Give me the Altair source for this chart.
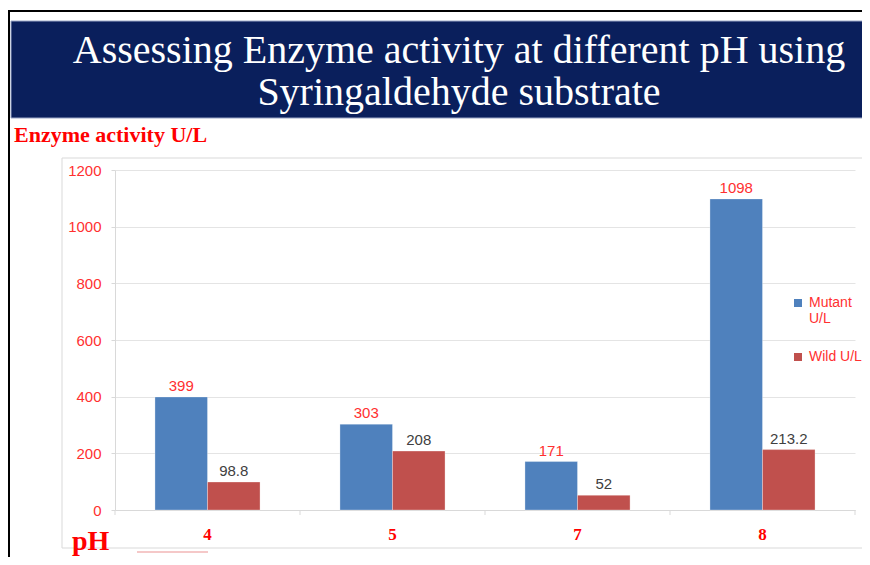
import altair as alt
import pandas as pd

ph_levels = ["4", "5", "7", "8"]
series = ["Mutant U/L", "Wild U/L"]
mutant_values = [399, 303, 171, 1098]
wild_values = [98.8, 208, 52, 213.2]
mutant_labels = ["399", "303", "171", "1098"]
wild_labels = ["98.8", "208", "52", "213.2"]
y_ticks = [0, 200, 400, 600, 800, 1000, 1200]
category_boundaries = [0, 1, 2, 3, 4]
title_lines = ["Assessing Enzyme activity at different pH using", "Syringaldehyde substrate"]
y_title = "Enzyme activity U/L"
x_title = "pH"

rows = []
for i, p in enumerate(ph_levels):
    rows.append({"pH": p, "series": series[0], "value": mutant_values[i], "label": mutant_labels[i]})
    rows.append({"pH": p, "series": series[1], "value": wild_values[i], "label": wild_labels[i]})
df = pd.DataFrame(rows)
one = pd.DataFrame({"k": [0]})

W, H = 740, 340

x_enc = alt.X("pH:N", sort=ph_levels, title=None,
              scale=alt.Scale(paddingInner=0.432, paddingOuter=0.216),
              axis=alt.Axis(labelFont="Liberation Serif", labelFontWeight="bold",
                            labelFontSize=17, labelColor="#ff0000", labelAngle=0,
                            domainColor="#d9d9d9", ticks=False, tickSize=0,
                            labelPadding=16, grid=False))
xoff = alt.XOffset("series:N", sort=series)
y_enc = alt.Y("value:Q", title=None, scale=alt.Scale(domain=[0, 1200], nice=False),
              axis=alt.Axis(values=y_ticks, format="d", labelFont="Liberation Sans", labelFontSize=15,
                            labelColor="#ff3030", domainColor="#d9d9d9", tickColor="#d9d9d9",
                            tickSize=4, labelPadding=10, gridColor="#e4e4e4"))

frame = alt.Chart(one).mark_rect(fill=None, stroke="black", strokeWidth=2).encode(
    x=alt.value(-106), x2=alt.value(800), y=alt.value(-159), y2=alt.value(450))
banner = alt.Chart(one).mark_rect(fill="#0a1f5c", stroke="#9aa6c6", strokeWidth=1).encode(
    x=alt.value(-104), x2=alt.value(800), y=alt.value(-149), y2=alt.value(-52))
t1 = alt.Chart(pd.DataFrame({"t": [title_lines[0]]})).mark_text(
    font="Liberation Serif", fontSize=40, color="white", align="center", baseline="alphabetic").encode(
    x=alt.value(344), y=alt.value(-107), text="t:N")
t2 = alt.Chart(pd.DataFrame({"t": [title_lines[1]]})).mark_text(
    font="Liberation Serif", fontSize=40, color="white", align="center", baseline="alphabetic").encode(
    x=alt.value(344), y=alt.value(-65), text="t:N")
ytitle = alt.Chart(pd.DataFrame({"t": [y_title]})).mark_text(
    font="Liberation Serif", fontSize=22, fontWeight="bold", color="#ff0000", align="left",
    baseline="alphabetic").encode(x=alt.value(-101), y=alt.value(-28), text="t:N")
box = alt.Chart(one).mark_rect(fill=None, stroke="#d9d9d9", strokeWidth=1).encode(
    x=alt.value(-53), x2=alt.value(800), y=alt.value(-12), y2=alt.value(378))
xtitle = alt.Chart(pd.DataFrame({"t": [x_title]})).mark_text(
    font="Liberation Serif", fontSize=28, fontWeight="bold", color="#ff0000", align="left",
    baseline="alphabetic").encode(x=alt.value(-43), y=alt.value(380), text="t:N")
pink = alt.Chart(one).mark_rule(color="#f2b6b6", strokeWidth=1.5).encode(
    x=alt.value(22), x2=alt.value(93), y=alt.value(382))

xticks = alt.Chart(pd.DataFrame({"b": category_boundaries})).mark_rule(color="#d9d9d9").encode(
    x=alt.X("b:Q", scale=alt.Scale(domain=[0, 4], nice=False, zero=False), axis=None),
    y=alt.value(H), y2=alt.value(H + 5))

bars = alt.Chart(df).mark_bar(stroke="white", strokeWidth=0.5, strokeOpacity=0.6).encode(
    x=x_enc, xOffset=xoff, y=y_enc,
    color=alt.Color("series:N", sort=series,
                    scale=alt.Scale(domain=series, range=["#4f81bd", "#c0504d"]),
                    legend=alt.Legend(title=None, orient="none", legendX=676, legendY=126,
                                      symbolType="square", symbolSize=64, symbolStrokeWidth=0,
                                      labelFont="Liberation Sans", labelFontSize=14,
                                      labelColor="#ff3030", rowPadding=24, labelLimit=200,
                                      labelExpr="datum.label == 'Mutant U/L' ? ['Mutant', 'U/L'] : datum.label")))
labels = alt.Chart(df).mark_text(font="Liberation Sans", fontSize=15, baseline="alphabetic", dy=-6).encode(
    x=x_enc, xOffset=xoff, y=y_enc, text="label:N",
    color=alt.condition("datum.series == 'Mutant U/L'", alt.value("#ff3030"), alt.value("#404040")))

main = alt.layer(frame, banner, t1, t2, ytitle, box, xtitle, pink, bars, labels)

chart = alt.layer(main, xticks).resolve_scale(x="independent").properties(
    width=W, height=H,
    autosize=alt.AutoSizeParams(type="none"),
    padding={"left": 107, "top": 162, "right": 7, "bottom": 47},
    background="white",
).configure_view(stroke=None)

chart.save("out.html", embed_options={"renderer": "svg", "actions": False})
